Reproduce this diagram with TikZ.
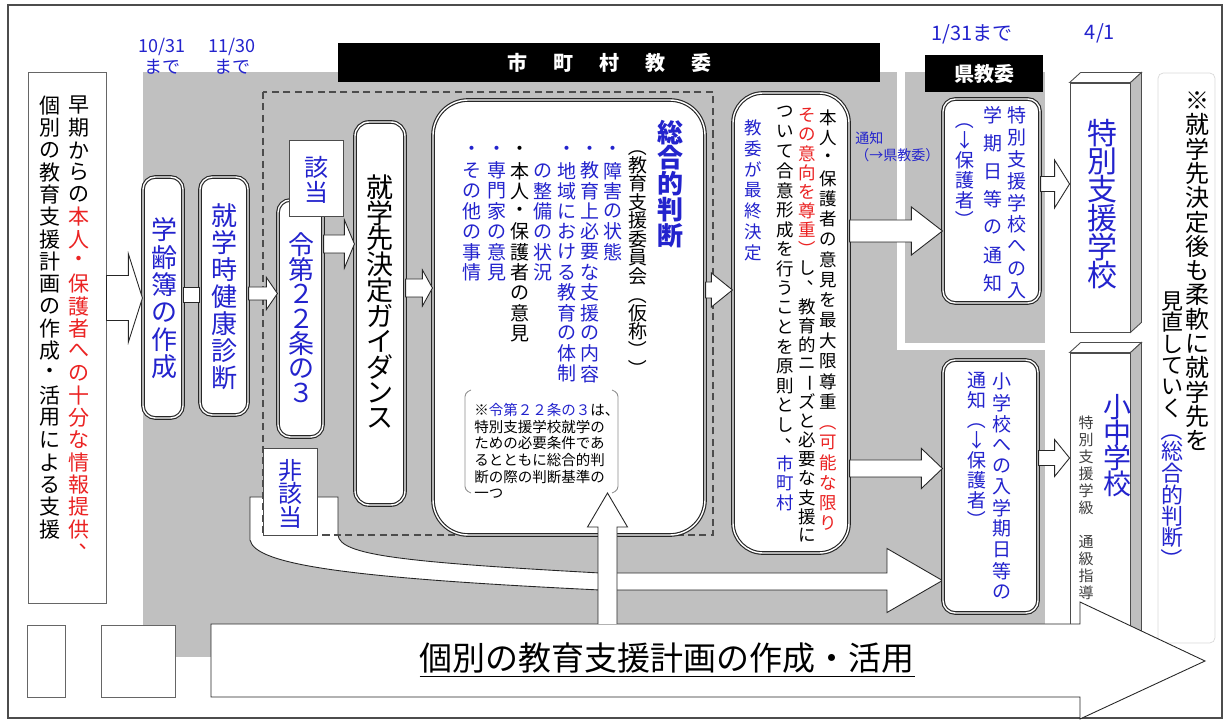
\documentclass[tikz,border=0pt]{standalone}
\usepackage{graphicx}
\usepackage{fontspec}
\setmainfont{Noto Sans CJK JP}
\usetikzlibrary{calc}
\newdimen\pxl
\pxl=0.02cm
\newcommand\fs[1]{\fontsize{#1\pxl}{#1\pxl}\selectfont}
\definecolor{jblue}{RGB}{35,35,205}
\definecolor{jred}{RGB}{235,35,35}
\definecolor{bggray}{RGB}{192,192,192}
\pgfdeclarelayer{bg}
\pgfdeclarelayer{mid}
\pgfsetlayers{bg,mid,main}

% vertical text: one character per cell, r/b/k switch the colour
\ExplSyntaxOn
\tl_new:N \l_vc_color_tl
\dim_new:N \l_vc_pitch_dim
\cs_new_protected:Npn \vc_glyph:n #1
  {
    \str_case:nnF {#1}
      {
        {（}{ \rotatebox[origin=c]{-90}{（} }
        {）}{ \rotatebox[origin=c]{-90}{）} }
        {ー}{ \rotatebox[origin=c]{-90}{ー} }
        {、}{ \makebox[1em][l]{ \hspace*{0.5em} \raisebox{0.5em}{､} } }
      }
      {#1}
  }
\cs_new_protected:Npn \vc_cell:n #1
  {
    \vbox_to_ht:nn { \l_vc_pitch_dim }
      {
        \vss
        \hbox_to_wd:nn { 1em }
          { \hss \exp_args:NV \color \l_vc_color_tl \vc_glyph:n {#1} \hss }
        \vss
      }
  }
\NewDocumentCommand \vcol { O{black} m m }
  {
    \tl_set:Nn \l_vc_color_tl {#1}
    \dim_set:Nn \l_vc_pitch_dim { #2 \pxl }
    \vbox:n
      {
        \offinterlineskip
        \tl_map_inline:nn {#3}
          {
            \str_case:nnF {##1}
              {
                {r}{ \tl_set:Nn \l_vc_color_tl {jred} }
                {b}{ \tl_set:Nn \l_vc_color_tl {jblue} }
                {k}{ \tl_set:Nn \l_vc_color_tl {black} }
              }
              { \vc_cell:n {##1} }
          }
      }
  }
\ExplSyntaxOff

% block arrow: from, to, y, body half, head half, head length (px)
\newcommand\hfat[6]{%
  \draw[fat] ($(#1 |- 0,#3)+(0,-#4)$) -- ($(#2 |- 0,#3)+(-#6,-#4)$) -- ($(#2 |- 0,#3)+(-#6,-#5)$)
    -- (#2 |- 0,#3) -- ($(#2 |- 0,#3)+(-#6,#5)$) -- ($(#2 |- 0,#3)+(-#6,#4)$) -- ($(#1 |- 0,#3)+(0,#4)$) -- cycle;}

\begin{document}
\begin{tikzpicture}[x=0.02cm, y=-0.02cm,
    wh/.style 2 args={minimum width={#1*0.02cm}, minimum height={#2*0.02cm}},
    rbox/.style={draw=black!85, line width=0.65pt, double=white, double distance=0.8pt,
                 fill=white, rounded corners=#1, inner sep=0},
    rbox/.default=7pt,
    sbox/.style={draw=black!70, line width=0.5pt, fill=white, inner sep=0},
    col/.style={inner sep=0, anchor=north},
    fat/.style={draw=black!85, line width=0.5pt, fill=white},
    hdr/.style={fill=black, text=white, font=\fs{20}\bfseries, inner sep=0},
    date/.style={text=jblue, font=\fontsize{18\pxl}{21\pxl}\selectfont, align=center, inner sep=0},
    face/.style={draw=black!70, line width=0.5pt, fill=#1},
    face/.default=white]

    \useasboundingbox (0,0) rectangle (1231,722);
    \draw[black!70, line width=0.6pt] (8,5) rectangle (1222,718);

    % grey areas
    \begin{pgfonlayer}{bg}
      \fill[bggray] (143,72) rectangle (1045,657);
      \fill[white] (897,72) rectangle (1045,350);
      \fill[bggray] (905,72) rectangle (1045,343);
    \end{pgfonlayer}
    \draw[black!70, line width=0.6pt, dash pattern=on 4pt off 2.5pt] (263,92) rectangle (713,535);

    % headers and dates
    \node[hdr, wh={542}{39}] (shichoson) at (609,62.5) {市\hspace{1.3em}町\hspace{1.3em}村\hspace{1.3em}教\hspace{1.3em}委};
    \node[hdr, wh={118}{37}] (kenkyoi) at (984,73.5) {県教委};
    \node[date] (d1031) at (162,56) {10/31\\まで};
    \node[date] (d1130) at (232,56) {11/30\\まで};
    \node[date, font=\fs{20}] (d0131) at (972,34) {1/31まで};
    \node[date, font=\fs{20}] (d0401) at (1100,33) {4/1};

    % boxes
    \node[sbox, draw=black!60, wh={78}{531}] (lbox) at (67,337.5) {};
    \node[sbox, draw=black!60, wh={38}{72}] (sq1) at (46,661) {};
    \node[sbox, draw=black!60, wh={74}{72}] (sq2) at (138,661) {};
    \node[rbox, wh={40}{241}] (gakurei) at (163,297.5) {};
    \node[rbox, wh={48}{238}] (kenshin) at (224,296) {};
    \node[rbox, wh={45}{237}] (rei) at (300.5,318.5) {};
    \node[sbox, wh={54}{76}] (gaito) at (316,178) {};
    \node[sbox, wh={54}{87}] (higaito) at (290,491.5) {};
    \node[rbox=8pt, wh={50}{383}] (guidance) at (380,313.5) {};
    \node[rbox=20pt, wh={272}{435}] (sogo) at (569,317.5) {};
    \node[rbox=17pt, wh={116}{460}] (honnin) at (791,323) {};
    \node[rbox, wh={97}{204}] (tkn) at (991.5,201) {};
    \node[rbox, wh={95}{253}] (sgn) at (990.5,486.5) {};
    \node[sbox, wh={60}{249}] (tks) at (1100,207.5) {};
    \node[sbox, wh={60}{287}] (scs) at (1100,496.5) {};
    \foreach \bx in {tks,scs}{
      \draw[face] (\bx.north west) -- ++(11,-10) -- ($(\bx.north east)+(11,-10)$) -- (\bx.north east) -- cycle;
      \draw[face=black!25] (\bx.north east) -- ++(11,-10) -- ($(\bx.south east)+(11,-10)$) -- (\bx.south east) -- cycle;
    }
    \node[draw=black!15, fill=white, rounded corners=3pt, wh={57}{570}] (rnote) at (1186.5,358) {};

    % vertical texts
    \node[col, font=\fs{21}] (lcola) at (79,94) {\vcol{22.3}{早期からのr本人・保護者への十分な情報提供、}};
    \node[col, font=\fs{21}] (lcolb) at (50,94) {\vcol{22.3}{個別の教育支援計画の作成・活用による支援}};
    \node[col, font=\fs{26}] (gakureit) at (164,216) {\vcol[jblue]{27.4}{学齢簿の作成}};
    \node[col, font=\fs{26}] (kenshint) at (224,201.5) {\vcol[jblue]{27}{就学時健康診断}};
    \node[col, font=\fs{26}] (reit) at (301,232) {\vcol[jblue]{24.7}{令第２２条の３}};
    \node[col, font=\fs{24}] (gaitot) at (316,154.5) {\vcol[jblue]{25}{該当}};
    \node[col, font=\fs{24}] (higaitot) at (290,458) {\vcol[jblue]{23.5}{非該当}};
    \node[col, font=\fs{27}] (guidancet) at (380,174) {\vcol{25.7}{就学先決定ガイダンス}};

    \node[col, font=\fs{26}\bfseries] (sogoa) at (670,119) {\vcol[jblue]{25.8}{総合的判断}};
    \node[col, font=\fs{19}] (sogob) at (638,137) {\vcol{18.5}{（教育支援委員会（仮称））}};
    \node[col, font=\fs{19}] (sogoc) at (613,140) {\vcol[jblue]{20.3}{・障害の状態}};
    \node[col, font=\fs{19}] (sogod) at (590,140) {\vcol[jblue]{20.3}{・教育上必要な支援の内容}};
    \node[col, font=\fs{19}] (sogoe) at (567,140) {\vcol[jblue]{20.3}{・地域における教育の体制}};
    \node[col, font=\fs{19}] (sogof) at (543,140) {\vcol[jblue]{20.3}{　の整備の状況}};
    \node[col, font=\fs{19}] (sogog) at (520,140) {\vcol{20.3}{・本人・保護者の意見}};
    \node[col, font=\fs{19}] (sogoh) at (497,140) {\vcol[jblue]{20.3}{・専門家の意見}};
    \node[col, font=\fs{19}] (sogoi) at (472,140) {\vcol[jblue]{20.3}{・その他の事情}};
    \node[inner sep=0, anchor=north west, align=left, font=\fontsize{14.5\pxl}{16.6\pxl}\selectfont] (cnote) at (474,403)
      {※\textcolor{jblue}{令第２２条の３}は、\\特別支援学校就学の\\ための必要条件であ\\るとともに総合的判\\断の際の判断基準の\\一つ};
    \draw[black!45, line width=0.5pt, rounded corners=2pt] (471,390) -- (465,393) -- (465,490) -- (471,493);
    \draw[black!45, line width=0.5pt, rounded corners=2pt] (612,390) -- (618,393) -- (618,490) -- (612,493);

    \node[col, font=\fs{17.5}] (honnina) at (828,107) {\vcol{20.3}{本人・保護者の意見を最大限尊重r（可能な限り}};
    \node[col, font=\fs{17.5}] (honninb) at (807,105.5) {\vcol{19.1}{rその意向を尊重）kし、教育的ニーズと必要な支援に}};
    \node[col, font=\fs{17.5}] (honninc) at (785,102) {\vcol{19.55}{ついて合意形成を行うことを原則とし、b市町村}};
    \node[col, font=\fs{17.5}] (honnind) at (753,117) {\vcol[jblue]{20.8}{教委が最終決定}};
    \node[inner sep=0, anchor=north west, align=left, text=jblue, font=\fontsize{14\pxl}{17\pxl}\selectfont] (tsuchi) at (855,131) {通知\\（→県教委）};

    \node[col, font=\fs{19}] (tkna) at (1017,104) {\vcol[jblue]{21.9}{特別支援学校への入}};
    \node[col, font=\fs{19}] (tknb) at (993,101) {\vcol[jblue]{28}{学期日等の通知}};
    \node[col, font=\fs{19}] (tknc) at (965,110) {\vcol[jblue]{20}{（↓保護者）}};
    \node[col, font=\fs{30}] (tkst) at (1102,118) {\vcol[jblue]{28.5}{特別支援学校}};
    \node[col, font=\fs{19}] (sgna) at (1002,371) {\vcol[jblue]{21}{小学校への入学期日等の}};
    \node[col, font=\fs{19}] (sgnb) at (977,370) {\vcol[jblue]{20}{通知（↓保護者）}};
    \node[col, font=\fs{28}] (scsa) at (1117,394) {\vcol[jblue]{25.5}{小中学校}};
    \node[col, font=\fs{15}] (scsb) at (1086,414) {\vcol[black!75]{17}{特別支援学級　通級指導}};
    \node[col, font=\fs{24}] (rnotea) at (1197,88) {\vcol{24.3}{※就学先決定後も柔軟に就学先を}};
    \node[col, font=\fs{22}] (rnoteb) at (1172,290) {\vcol{21.5}{見直していくb（総合的判断）}};

    % arrows
    \hfat{lbox.east}{gakurei.west}{298}{22.5}{44}{14}
    \draw[fat] (gakurei.east |- 0,287) rectangle (kenshin.west |- 0,302);
    \hfat{kenshin.east}{rei.west}{293.5}{6.5}{16}{11}
    \hfat{rei.east}{guidance.west}{244}{9}{24}{10}
    \hfat{guidance.east}{sogo.west}{288}{9}{18}{10}
    \hfat{sogo.east}{honnin.west}{290}{8}{17}{21}
    \hfat{honnin.east}{tkn.west}{231}{11}{24}{31}
    \hfat{honnin.east}{sgn.west}{468.5}{8.5}{20}{21}
    \hfat{tkn.east}{tks.west}{184}{7.5}{24}{15}
    \hfat{sgn.east}{scs.west}{458}{7.5}{18.5}{15}

    % not applicable: round the bend to the elementary school notice
    \begin{pgfonlayer}{mid}
      \draw[fat] (250,497) -- (250,540) .. controls (255,565) and (350,578) .. (600,590) -- (887,590)
        -- (887,612.5) -- (sgn.west |- 0,580.5) -- (887,548.5) -- (887,573) -- (600,573)
        .. controls (400,562) and (340,555) .. (338,535) -- (338,497) -- cycle;
    \end{pgfonlayer}

    % individual plan
    \draw[fat] (211,624) -- (1080,624) -- (1080,602) -- (1205,661) -- (1080,719) -- (1080,697) -- (211,697) -- cycle;
    \node[inner sep=0, font=\fs{33}] (plan) at (667,660) {\underline{個別の教育支援計画の作成・活用}};
    \coordinate (upfoot) at (607.5,624);
    \coordinate (uptip) at (607.5,493);
    \draw[fat] ($(upfoot)+(-9.5,0)$) -- ($(uptip)+(-9.5,34)$) -- ($(uptip)+(-20,34)$) -- (uptip)
      -- ($(uptip)+(20,34)$) -- ($(uptip)+(9.5,34)$) -- ($(upfoot)+(9.5,0)$);

\end{tikzpicture}
\end{document}
